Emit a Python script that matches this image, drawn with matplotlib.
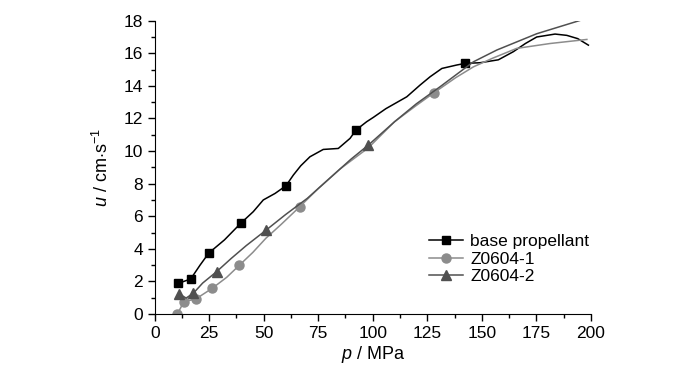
import matplotlib
matplotlib.use('Agg')
import matplotlib.pyplot as plt
from matplotlib.ticker import MultipleLocator

plt.rcParams['font.family'] = ['Liberation Sans', 'DejaVu Sans']
plt.rcParams['mathtext.fontset'] = 'custom'
plt.rcParams['mathtext.it'] = 'Liberation Sans:italic'
plt.rcParams['mathtext.rm'] = 'Liberation Sans'

# base propellant
p_base = [10.8, 16.5, 20.8, 24.8, 32.0, 39.4, 45.2, 49.8, 55.2, 60.2, 63.6, 67.0, 71.2, 77.3,
          84.2, 89.6, 92.3, 97.2, 100.3, 106.0, 115.6, 121.7, 126.3, 131.7, 138.5, 142.3,
          149.2, 157.6, 164.5, 170.0, 175.2, 183.6, 189.0, 194.0, 198.9]
u_base = [1.88, 2.15, 3.0, 3.74, 4.55, 5.56, 6.28, 7.0, 7.4, 7.87, 8.53, 9.1, 9.65, 10.1,
          10.16, 10.78, 11.29, 11.8, 12.07, 12.6, 13.33, 14.05, 14.56, 15.07, 15.28, 15.38,
          15.42, 15.6, 16.1, 16.6, 17.0, 17.18, 17.1, 16.9, 16.5]
mk_base = [0, 1, 3, 5, 9, 16, 25]

# Z0604-1
p_z1 = [10.4, 13.4, 18.8, 26.3, 33.0, 38.8, 45.0, 51.0, 58.0, 66.5, 75.0, 85.0, 98.0,
        110.0, 120.0, 128.1, 138.0, 146.2, 155.0, 166.0, 181.3, 198.2]
u_z1 = [0.0, 0.76, 0.92, 1.57, 2.25, 2.99, 3.78, 4.65, 5.5, 6.58, 7.7, 8.9, 10.2,
        11.8, 12.8, 13.58, 14.5, 15.17, 15.7, 16.3, 16.6, 16.85]
mk_z1 = [0, 1, 2, 3, 5, 9, 15]

# Z0604-2
p_z2 = [11.3, 14.4, 17.7, 22.0, 28.4, 35.0, 42.0, 51.1, 60.0, 70.0, 80.0, 90.0, 98.0,
        110.0, 120.0, 130.9, 146.2, 156.9, 175.2, 196.6]
u_z2 = [1.23, 0.98, 1.27, 1.9, 2.6, 3.4, 4.2, 5.15, 6.1, 7.1, 8.3, 9.5, 10.37,
        11.8, 12.9, 13.95, 15.48, 16.2, 17.2, 18.08]
mk_z2 = [0, 2, 4, 7, 12]

fig = plt.figure(figsize=(7, 3.71), dpi=100)
ax = fig.add_axes([0.221, 0.1536, 0.623, 0.7906])

ax.plot(p_base, u_base, color='black', lw=1.1, marker='s', markersize=6,
        markevery=mk_base, label='base propellant')
ax.plot(p_z1, u_z1, color='#8c8c8c', lw=1.1, marker='o', markersize=6.5,
        markevery=mk_z1, label='Z0604-1')
ax.plot(p_z2, u_z2, color='#505050', lw=1.1, marker='^', markersize=7,
        markevery=mk_z2, label='Z0604-2')

ax.set_xlim(0, 200)
ax.set_ylim(0, 18)
ax.xaxis.set_major_locator(MultipleLocator(25))
ax.xaxis.set_minor_locator(MultipleLocator(12.5))
ax.yaxis.set_major_locator(MultipleLocator(2))
ax.yaxis.set_minor_locator(MultipleLocator(1))
ax.spines['top'].set_visible(False)
ax.spines['right'].set_visible(False)
ax.tick_params(which='major', direction='out', length=5, width=1, labelsize=12.5)
ax.tick_params(which='minor', direction='out', length=3, width=1)

ax.set_xlabel('$p$ / MPa', fontsize=13, labelpad=2)
ax.set_ylabel('$u$ / cm$\\cdot$s$^{-1}$', fontsize=13, labelpad=8)

ax.legend(loc='upper left', bbox_to_anchor=(0.6, 0.315), frameon=False, fontsize=12.5,
          handlelength=2.0, handletextpad=0.4, labelspacing=0.15, borderpad=0.2)

fig.savefig('out.png', dpi=100)
